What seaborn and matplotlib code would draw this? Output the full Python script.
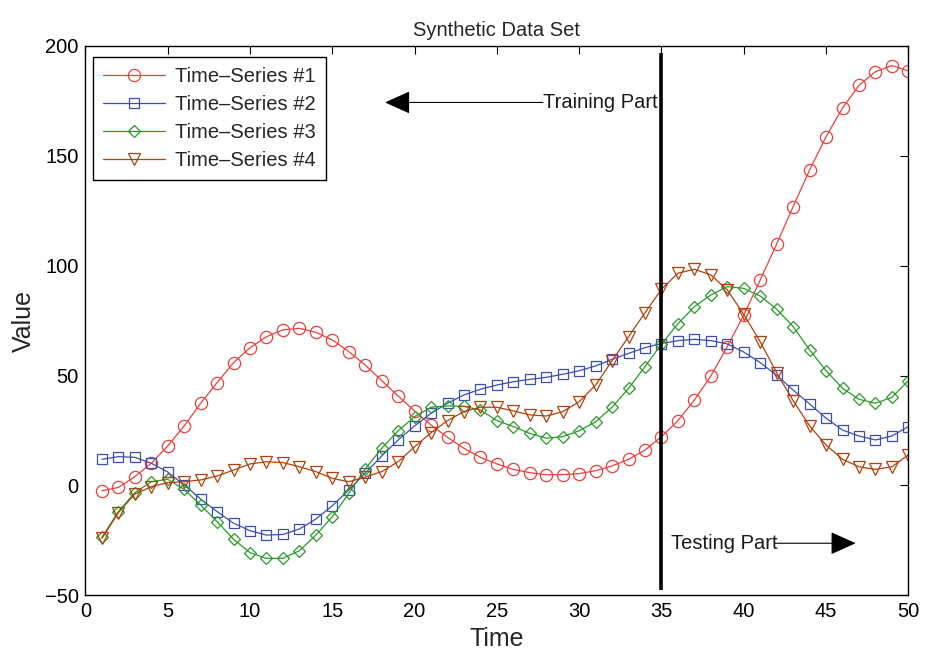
import numpy as np
import pandas as pd
import matplotlib
matplotlib.use("Agg")
import matplotlib.pyplot as plt
from matplotlib.patches import ArrowStyle
import seaborn as sns

# Time axis and the four series
time = list(range(1, 51))

series_1 = [-2.4, -0.9, 4.0, 10.1, 18.0, 27.1, 37.4, 46.8, 55.9, 62.7,
            67.7, 70.8, 71.5, 69.7, 66.2, 60.9, 54.8, 47.7, 40.7, 33.9,
            27.5, 21.9, 16.9, 12.8, 9.8, 7.3, 5.8, 4.9, 4.9, 5.4,
            6.7, 8.9, 11.9, 16.1, 22.2, 29.5, 38.9, 49.8, 63.2, 77.6,
            93.5, 109.9, 126.9, 143.6, 158.7, 171.8, 182.1, 188.3, 191.1, 188.7]

series_2 = [11.9, 13.1, 12.8, 10.1, 6.1, 0.2, -6.2, -11.9, -17.2, -20.6,
            -22.6, -22.3, -19.8, -15.3, -9.2, -2.1, 5.6, 13.4, 20.7, 27.1,
            32.8, 37.4, 41.2, 43.8, 45.7, 47.2, 48.3, 49.2, 50.6, 52.2,
            54.4, 57.4, 60.1, 62.7, 64.6, 65.9, 66.5, 65.9, 64.4, 60.7,
            55.9, 50.1, 43.4, 37.1, 30.6, 25.2, 22.5, 20.7, 22.5, 26.8]

series_3 = [-23.6, -11.9, -3.3, 1.7, 2.8, -1.8, -8.9, -16.5, -24.5, -30.6,
            -33.2, -33.2, -29.7, -22.6, -14.2, -3.6, 7.5, 16.9, 24.9, 31.3,
            35.6, 36.2, 36.0, 34.3, 29.5, 26.8, 23.7, 21.5, 22.2, 24.9,
            29.0, 35.6, 44.2, 54.1, 64.3, 73.6, 81.4, 86.7, 90.5, 89.7,
            86.2, 80.2, 72.3, 61.7, 52.2, 44.2, 39.2, 37.4, 40.1, 47.7]

series_4 = [-24.1, -12.4, -3.9, -0.6, 1.3, 1.7, 2.5, 4.3, 7.0, 9.8,
            10.8, 10.4, 8.5, 6.3, 3.2, 1.7, 3.8, 6.3, 10.8, 17.6,
            24.0, 29.5, 33.6, 35.6, 35.6, 33.9, 32.1, 31.6, 33.6, 38.1,
            45.7, 56.8, 67.7, 78.6, 89.3, 96.6, 98.4, 95.8, 89.0, 77.8,
            65.4, 51.3, 38.6, 27.1, 18.4, 11.9, 8.5, 7.3, 8.5, 13.9]

labels = ["Time\u2013Series #1", "Time\u2013Series #2",
          "Time\u2013Series #3", "Time\u2013Series #4"]
colors = ["#e8413c", "#3a4fb0", "#2a9a2a", "#b0400a"]
markers = ["o", "s", "D", "v"]
marker_sizes = [8.8, 7.2, 6.6, 8.6]

x_ticks = list(range(0, 51, 5))
y_ticks = list(range(-50, 201, 50))

split_time = 35

sns.set_style("white")
plt.rcParams["font.family"] = ["Liberation Sans", "DejaVu Sans"]
plt.rcParams["axes.unicode_minus"] = True

fig = plt.figure(figsize=(9.35, 6.57), dpi=100)
ax = fig.add_axes([0.0914, 0.0939, 0.8801, 0.8361])

for vals, lab, col, mk, ms in zip([series_1, series_2, series_3, series_4],
                                  labels, colors, markers, marker_sizes):
    df = pd.DataFrame({"Time": time, "Value": vals})
    sns.lineplot(data=df, x="Time", y="Value", ax=ax, color=col, label=lab,
                 linewidth=0.9, marker=mk, markersize=ms,
                 markerfacecolor="none", markeredgecolor=col,
                 markeredgewidth=0.9)

# train / test split line
ax.plot([split_time, split_time], [196.7, -47.6], color="black",
        linewidth=2.6, solid_capstyle="butt", zorder=5)

head = ArrowStyle("-|>", head_length=1.0, head_width=0.45)
ax.annotate("", xy=(18.2, 174.3), xytext=(27.8, 174.3),
            arrowprops=dict(arrowstyle=head, mutation_scale=16,
                            color="black", linewidth=0.8,
                            shrinkA=0, shrinkB=0))
ax.text(27.8, 174.3, "Training Part", ha="left", va="center",
        fontsize=14.5, color="#1a1a1a")

ax.annotate("", xy=(46.8, -26.3), xytext=(41.9, -26.3),
            arrowprops=dict(arrowstyle=head, mutation_scale=16,
                            color="black", linewidth=0.8,
                            shrinkA=0, shrinkB=0))
ax.text(35.6, -26.3, "Testing Part", ha="left", va="center",
        fontsize=14.5, color="#1a1a1a")

ax.set_xlim(0, 50)
ax.set_ylim(-50, 200)
ax.set_xticks(x_ticks)
ax.set_yticks(y_ticks)
ax.tick_params(direction="in", top=True, right=True, length=6,
               width=0.8, labelsize=14.5, colors="black", pad=5)
for sp in ax.spines.values():
    sp.set_color("black")
    sp.set_linewidth(1.0)

ax.set_title("Synthetic Data Set", fontsize=14.5, pad=7)
ax.set_xlabel("Time", fontsize=18, labelpad=4)
ax.set_ylabel("Value", fontsize=18, labelpad=6)

leg = ax.legend(loc="upper left", bbox_to_anchor=(0.009, 0.98),
                borderaxespad=0, fontsize=14.5, handlelength=3.1,
                handletextpad=0.5, labelspacing=0.45, borderpad=0.5,
                fancybox=False, framealpha=1, edgecolor="black")
leg.get_frame().set_linewidth(1.0)

fig.savefig("out.png", dpi=100)
